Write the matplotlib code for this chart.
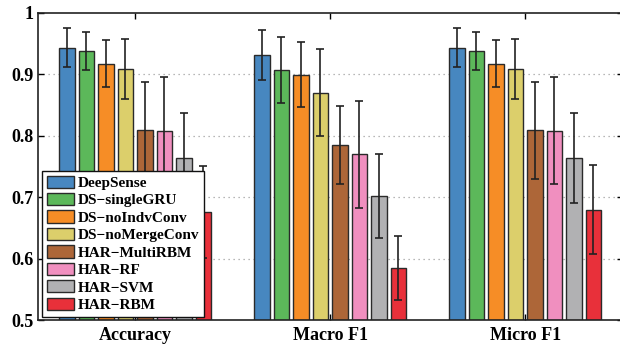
import matplotlib
matplotlib.use("Agg")
import matplotlib.pyplot as plt
import numpy as np

metrics = ["Accuracy", "Macro F1", "Micro F1"]
models = ["DeepSense", "DS\u2212singleGRU", "DS\u2212noIndvConv", "DS\u2212noMergeConv",
          "HAR\u2212MultiRBM", "HAR\u2212RF", "HAR\u2212SVM", "HAR\u2212RBM"]
colors = ["#4787c0", "#5cb85a", "#f68d26", "#dccf6b",
          "#ad6638", "#f08fbf", "#b1b1b3", "#e8303a"]

# mean score per model, one column per metric
means = [
    [0.943, 0.931, 0.943],
    [0.938, 0.907, 0.938],
    [0.917, 0.899, 0.917],
    [0.908, 0.870, 0.908],
    [0.809, 0.785, 0.809],
    [0.808, 0.770, 0.808],
    [0.764, 0.702, 0.764],
    [0.676, 0.585, 0.680],
]
# standard deviation per model, one column per metric
stds = [
    [0.032, 0.041, 0.032],
    [0.031, 0.053, 0.031],
    [0.038, 0.053, 0.038],
    [0.049, 0.071, 0.049],
    [0.079, 0.063, 0.079],
    [0.087, 0.087, 0.087],
    [0.073, 0.068, 0.073],
    [0.074, 0.052, 0.073],
]
yticks = [0.5, 0.6, 0.7, 0.8, 0.9, 1.0]
ytick_labels = ["0.5", "0.6", "0.7", "0.8", "0.9", "1"]

plt.rcParams["font.family"] = ["Liberation Serif", "DejaVu Serif"]
plt.rcParams["font.weight"] = "bold"

fig = plt.figure(figsize=(6.2, 3.45), dpi=100)
ax = fig.add_axes([0.0608, 0.0716, 0.9435, 0.8916])

x = np.arange(1, len(metrics) + 1)
pitch = 0.1
width = 0.08
for i, (name, color) in enumerate(zip(models, colors)):
    offs = (i - (len(models) - 1) / 2) * pitch
    ax.bar(x + offs, means[i], width, color=color, edgecolor="#2a2a2a",
           linewidth=1.0, label=name, zorder=2)
    ax.errorbar(x + offs, means[i], yerr=stds[i], fmt="none", ecolor="#222222",
                elinewidth=1.2, capsize=3, capthick=1.2, zorder=3)

for y in yticks[1:-1]:
    ax.axhline(y, color="#a0a0a0", linestyle=(0, (1, 3)), linewidth=0.9, zorder=1)

ax.set_xlim(0.5, 3.5)
ax.set_ylim(0.5, 1.0)
ax.set_xticks(x)
ax.set_xticklabels(metrics, fontsize=13, fontweight="bold")
ax.set_yticks(yticks)
ax.set_yticklabels(ytick_labels, fontsize=13, fontweight="bold")
ax.tick_params(axis="both", direction="in", length=4, width=1,
               top=True, right=True)
ax.tick_params(axis="x", pad=5)
ax.tick_params(axis="y", pad=3)
for sp in ax.spines.values():
    sp.set_linewidth(1.2)
    sp.set_color("#222222")

leg = ax.legend(loc="lower left", bbox_to_anchor=(0.008, 0.012), borderaxespad=0,
                fancybox=False, framealpha=1, edgecolor="#111111",
                prop={"size": 11, "weight": "bold"}, labelspacing=0.2,
                handlelength=1.8, handleheight=0.85, handletextpad=0.25,
                borderpad=0.3)
leg.get_frame().set_linewidth(1.0)
leg.set_zorder(5)

fig.savefig("out.png", dpi=100)
